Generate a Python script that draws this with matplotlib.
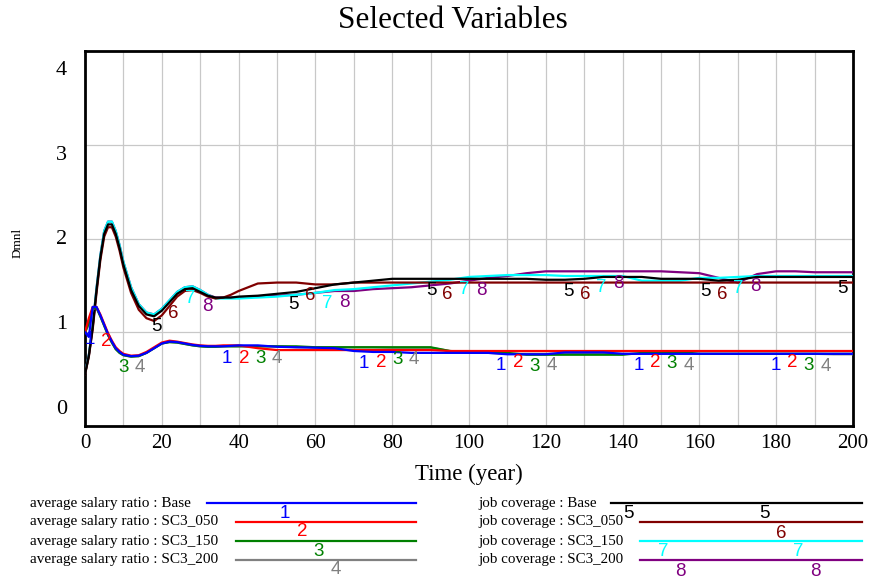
import numpy as np
import matplotlib
matplotlib.use("Agg")
import matplotlib.pyplot as plt

# ---------------- data ----------------
time = [0, 1, 2, 3, 4, 5, 6, 7, 8, 9, 10, 12, 14, 16, 18, 20, 22, 24, 26, 28, 30,
        32, 34, 36, 38, 40, 45, 50, 55, 60, 65, 70, 75, 80, 85, 90, 95, 100, 105,
        110, 115, 120, 125, 130, 135, 140, 145, 150, 155, 160, 165, 170, 175, 180,
        185, 190, 195, 200]

salary_base = [1.00, 0.95, 1.27, 1.27, 1.18, 1.08, 0.98, 0.90, 0.83, 0.79, 0.76, 0.745, 0.75, 0.78, 0.83, 0.88, 0.90, 0.895, 0.88, 0.865, 0.855,
               0.85, 0.85, 0.85, 0.855, 0.86, 0.86, 0.845, 0.84, 0.835, 0.83, 0.80, 0.79, 0.79, 0.78, 0.78, 0.78, 0.78, 0.78,
               0.765, 0.765, 0.765, 0.785, 0.785, 0.785, 0.77, 0.77, 0.77, 0.77, 0.77, 0.77, 0.77, 0.77, 0.77,
               0.77, 0.77, 0.77, 0.77]
salary_050 = [1.00, 1.15, 1.27, 1.27, 1.19, 1.09, 0.99, 0.91, 0.84, 0.80, 0.77, 0.75, 0.755, 0.79, 0.84, 0.89, 0.91, 0.90, 0.885, 0.87, 0.86,
              0.855, 0.855, 0.86, 0.86, 0.86, 0.83, 0.81, 0.81, 0.81, 0.81, 0.81, 0.81, 0.81, 0.81, 0.81, 0.80, 0.80, 0.80,
              0.80, 0.80, 0.80, 0.80, 0.80, 0.80, 0.80, 0.80, 0.80, 0.80, 0.80, 0.80, 0.80, 0.80, 0.80,
              0.80, 0.80, 0.80, 0.80]
salary_150 = [1.00, 1.10, 1.26, 1.26, 1.17, 1.07, 0.97, 0.89, 0.82, 0.78, 0.755, 0.74, 0.745, 0.78, 0.83, 0.88, 0.895, 0.89, 0.875, 0.86, 0.85,
              0.845, 0.845, 0.85, 0.85, 0.85, 0.85, 0.85, 0.85, 0.84, 0.84, 0.84, 0.84, 0.84, 0.84, 0.84, 0.80, 0.79, 0.78,
              0.78, 0.76, 0.76, 0.76, 0.76, 0.76, 0.76, 0.78, 0.79, 0.79, 0.77, 0.77, 0.77, 0.77, 0.77,
              0.77, 0.77, 0.77, 0.77]
salary_200 = [1.00, 1.08, 1.25, 1.26, 1.17, 1.07, 0.97, 0.89, 0.82, 0.78, 0.755, 0.74, 0.745, 0.78, 0.83, 0.88, 0.895, 0.89, 0.875, 0.86, 0.85,
              0.845, 0.845, 0.85, 0.85, 0.85, 0.85, 0.85, 0.84, 0.84, 0.84, 0.84, 0.84, 0.835, 0.835, 0.835, 0.80, 0.78, 0.78,
              0.77, 0.77, 0.77, 0.77, 0.77, 0.77, 0.77, 0.77, 0.77, 0.77, 0.77, 0.77, 0.77, 0.77, 0.77,
              0.77, 0.77, 0.765, 0.765]

job_base = [0.55, 0.75, 1.05, 1.45, 1.80, 2.05, 2.15, 2.15, 2.05, 1.90, 1.72, 1.45, 1.28, 1.19, 1.17, 1.23, 1.32, 1.41, 1.46, 1.47, 1.43,
            1.39, 1.37, 1.37, 1.37, 1.38, 1.39, 1.41, 1.43, 1.47, 1.51, 1.53, 1.55, 1.57, 1.57, 1.57, 1.57, 1.57, 1.57,
            1.57, 1.57, 1.56, 1.56, 1.57, 1.59, 1.59, 1.59, 1.57, 1.57, 1.57, 1.55, 1.56, 1.59, 1.59,
            1.59, 1.59, 1.59, 1.59]
job_050 = [0.55, 0.74, 1.03, 1.42, 1.77, 2.02, 2.12, 2.12, 2.02, 1.87, 1.69, 1.42, 1.24, 1.15, 1.12, 1.18, 1.28, 1.38, 1.44, 1.45, 1.42,
           1.38, 1.36, 1.37, 1.40, 1.44, 1.52, 1.53, 1.53, 1.51, 1.51, 1.53, 1.53, 1.53, 1.53, 1.53, 1.53, 1.53, 1.53,
           1.53, 1.53, 1.53, 1.53, 1.53, 1.53, 1.53, 1.53, 1.53, 1.53, 1.53, 1.53, 1.53, 1.53, 1.53,
           1.53, 1.53, 1.53, 1.53]
job_150 = [0.56, 0.76, 1.07, 1.47, 1.82, 2.08, 2.18, 2.18, 2.08, 1.93, 1.75, 1.48, 1.30, 1.21, 1.19, 1.25, 1.34, 1.43, 1.48, 1.49, 1.45,
           1.40, 1.36, 1.36, 1.36, 1.36, 1.37, 1.38, 1.40, 1.42, 1.45, 1.46, 1.48, 1.50, 1.52, 1.54, 1.56, 1.59, 1.60,
           1.61, 1.61, 1.61, 1.60, 1.60, 1.60, 1.60, 1.55, 1.55, 1.55, 1.58, 1.58, 1.59, 1.60, 1.60,
           1.60, 1.60, 1.60, 1.60]
job_200 = [0.56, 0.76, 1.07, 1.47, 1.82, 2.08, 2.18, 2.18, 2.08, 1.93, 1.75, 1.48, 1.30, 1.21, 1.19, 1.25, 1.34, 1.43, 1.48, 1.49, 1.45,
           1.40, 1.37, 1.37, 1.37, 1.37, 1.38, 1.39, 1.40, 1.42, 1.44, 1.44, 1.46, 1.47, 1.48, 1.50, 1.52, 1.55, 1.58,
           1.60, 1.63, 1.65, 1.65, 1.65, 1.65, 1.65, 1.65, 1.65, 1.64, 1.63, 1.58, 1.53, 1.62, 1.65,
           1.65, 1.64, 1.64, 1.64]

series_names = ["average salary ratio : Base", "average salary ratio : SC3_050",
                "average salary ratio : SC3_150", "average salary ratio : SC3_200",
                "job coverage : Base", "job coverage : SC3_050",
                "job coverage : SC3_150", "job coverage : SC3_200"]
series_values = [salary_base, salary_050, salary_150, salary_200,
                 job_base, job_050, job_150, job_200]
series_colors = ["#0000ff", "#ff0000", "#008000", "#808080",
                 "#000000", "#800000", "#00ffff", "#800080"]

x_ticks = [0, 20, 40, 60, 80, 100, 120, 140, 160, 180, 200]
y_ticks = [0, 1, 2, 3, 4]

# ---------------- figure ----------------
W, H = 872, 581
fig = plt.figure(figsize=(W / 100, H / 100), dpi=100)

def fx(px):
    return px / W

def fy(py):
    return 1 - py / H

ax = fig.add_axes([fx(85), fy(426), fx(853) - fx(85), fy(51) - fy(426)])
ax.set_xlim(0, 200)
ax.set_ylim(0, 4)

serif = "Liberation Serif"
sans = "Liberation Sans"

# grid
ax.set_xticks(np.arange(0, 201, 10))
ax.set_yticks(y_ticks)
ax.grid(True, color="#c8c8c8", linewidth=0.9)
ax.tick_params(length=0, labelbottom=False, labelleft=False)
for sp in ax.spines.values():
    sp.set_linewidth(2.0)
    sp.set_color("black")

T = np.array(time, dtype=float)
for i in reversed(range(8)):
    ax.plot(T, series_values[i], color=series_colors[i], linewidth=1.6, zorder=3)

# numeric line markers (Vensim style)
period = 35.7
for i in range(8):
    t0 = 1.3 + i * 4.35
    ts = np.arange(t0, 200.5, period)
    for t in ts:
        yv = np.interp(t, T, series_values[i])
        ax.annotate(str(i + 1), (t, yv), xytext=(0, -2.5), textcoords="offset points",
                    ha="center", va="top", color=series_colors[i], fontsize=13.5,
                    family=sans, zorder=4, annotation_clip=False)

# x tick labels
for xt in x_ticks:
    ax.text(xt, -(443 - 426) / 375, str(xt), transform=ax.get_xaxis_transform(),
            ha="center", va="center", fontsize=15, family=serif)

# y tick labels evenly spread (Vensim style)
for val, frac in zip(y_ticks, np.linspace(0.043, 0.949, 5)):
    ax.text(-(85 - 67) / 768, frac, str(val), transform=ax.transAxes, ha="right",
            va="center", fontsize=16, family=serif)

# titles
fig.text(fx(453), fy(21), "Selected Variables", ha="center", va="center",
         fontsize=22.5, family=serif)
fig.text(fx(469), fy(474), "Time (year)", ha="center", va="center",
         fontsize=16.5, family=serif)
fig.text(fx(18), fy(243), "Dmnl", ha="center", va="center", rotation=90,
         fontsize=9.5, family=serif)

# legend
rows_y = [503, 522, 541, 560]
for j in range(4):
    # left column
    fig.text(fx(30), fy(rows_y[j]), series_names[j], ha="left", va="center",
             fontsize=11, family=serif)
    x0 = 207 if j == 0 else 236
    fig.add_artist(plt.Line2D([fx(x0), fx(416)], [fy(rows_y[j]), fy(rows_y[j])],
                              color=series_colors[j], linewidth=1.6))
    fig.text(fx(285 + 17 * j), fy(rows_y[j] + 10), str(j + 1), ha="center", va="center",
             color=series_colors[j], fontsize=13.5, family=sans)
    # right column
    k = j + 4
    fig.text(fx(478), fy(rows_y[j]), series_names[k], ha="left", va="center",
             fontsize=10.8, family=serif)
    x0 = 611 if j == 0 else 640
    fig.add_artist(plt.Line2D([fx(x0), fx(862)], [fy(rows_y[j]), fy(rows_y[j])],
                              color=series_colors[k], linewidth=1.6))
    for xl in (628 + 17.5 * j, 764 + 17 * j):
        if j == 1 and xl < 700:
            continue
        fig.text(fx(xl), fy(rows_y[j] + 11), str(k + 1), ha="center", va="center",
                 color=series_colors[k], fontsize=13.5, family=sans)

fig.savefig("out.png", dpi=100)
